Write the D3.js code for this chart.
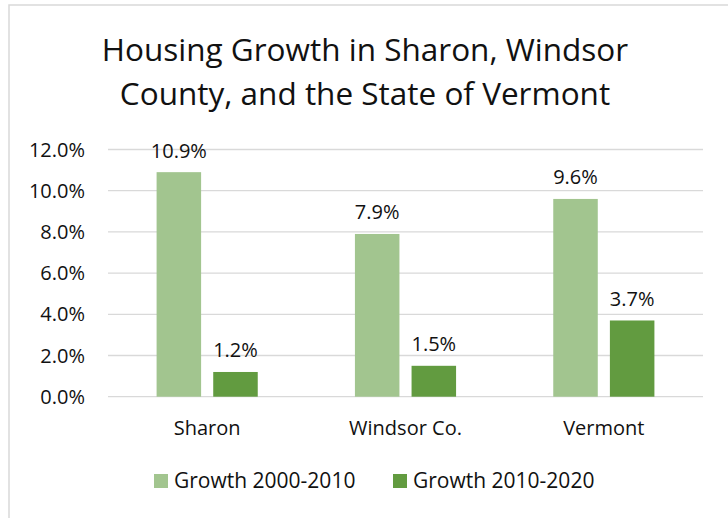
<!DOCTYPE html>
<html lang="en">
<head>
    <meta charset="utf-8">
    <title>housing growth</title>
    <script src="https://cdn.jsdelivr.net/npm/d3@7/dist/d3.min.js"></script>
    <style>
        body { margin: 0; background: #fff; }
        text { font-family: "Open Sans", "Noto Sans", sans-serif; fill: #111; }
    </style>
</head>
<body>
    <script type="text/javascript">
        var categories = ['Sharon', 'Windsor Co.', 'Vermont'];
        var seriesNames = ['Growth 2000-2010', 'Growth 2010-2020'];
        var growth2000 = [10.9, 7.9, 9.6];
        var growth2010 = [1.2, 1.5, 3.7];
        var yTicks = [0, 2, 4, 6, 8, 10, 12];
        var titleLines = ['Housing Growth in Sharon, Windsor', 'County, and the State of Vermont'];

        var colors = ['#a2c58f', '#629b40'];
        var svgWidth = 728, svgHeight = 518;
        var plotLeft = 108, plotRight = 703, plotTop = 149.5, plotBottom = 396.7;

        var svg = d3.select('body')
            .append('svg')
            .attr('width', svgWidth)
            .attr('height', svgHeight);

        // chart frame (runs off the right and bottom edge)
        svg.append('rect')
            .attr('x', 9).attr('y', 5)
            .attr('width', 760).attr('height', 560)
            .attr('fill', '#fff')
            .attr('stroke', '#d9d9d9')
            .attr('stroke-width', 1.5);

        var x0 = d3.scaleBand().domain(categories).range([plotLeft, plotRight]);
        var bw = x0.bandwidth();
        var x1 = d3.scaleBand().domain(seriesNames)
            .range([bw * 0.245, bw * 0.755])
            .paddingInner(0.214);
        var y = d3.scaleLinear().domain([0, 12]).range([plotBottom, plotTop]);

        // title
        svg.append('g').selectAll('text')
            .data(titleLines)
            .enter().append('text')
            .attr('x', 365)
            .attr('y', (d, i) => 61 + i * 44)
            .attr('text-anchor', 'middle')
            .style('font-size', '31.5px')
            .text(d => d);

        // gridlines
        svg.append('g').selectAll('line')
            .data(yTicks)
            .enter().append('line')
            .attr('x1', plotLeft).attr('x2', plotRight)
            .attr('y1', d => y(d)).attr('y2', d => y(d))
            .attr('stroke', '#d9d9d9')
            .attr('stroke-width', 1.3);

        // y axis labels
        svg.append('g').selectAll('text')
            .data(yTicks)
            .enter().append('text')
            .attr('x', 85)
            .attr('y', d => y(d) + 7)
            .attr('text-anchor', 'end')
            .style('font-size', '20px')
            .text(d => d3.format('.1f')(d) + '%');

        var data = categories.map((c, i) => ({
            cat: c,
            values: [
                { name: seriesNames[0], v: growth2000[i] },
                { name: seriesNames[1], v: growth2010[i] }
            ]
        }));

        var groups = svg.append('g').selectAll('g')
            .data(data)
            .enter().append('g')
            .attr('transform', d => 'translate(' + x0(d.cat) + ',0)');

        groups.selectAll('rect')
            .data(d => d.values)
            .enter().append('rect')
            .attr('x', d => x1(d.name))
            .attr('width', x1.bandwidth())
            .attr('y', d => y(d.v))
            .attr('height', d => plotBottom - y(d.v))
            .attr('fill', (d, i) => colors[i]);

        groups.selectAll('text')
            .data(d => d.values)
            .enter().append('text')
            .attr('x', d => x1(d.name) + x1.bandwidth() / 2)
            .attr('y', d => y(d.v) - 14.5)
            .attr('text-anchor', 'middle')
            .style('font-size', '20px')
            .text(d => d3.format('.1f')(d.v) + '%');

        // category labels
        svg.append('g').selectAll('text')
            .data(categories)
            .enter().append('text')
            .attr('x', d => x0(d) + bw / 2)
            .attr('y', 435)
            .attr('text-anchor', 'middle')
            .style('font-size', '20px')
            .text(d => d);

        // legend
        var legendX = [154, 393];
        var legend = svg.append('g').selectAll('g')
            .data(seriesNames)
            .enter().append('g')
            .attr('transform', (d, i) => 'translate(' + legendX[i] + ',474)');
        legend.append('rect')
            .attr('width', 14).attr('height', 14)
            .attr('fill', (d, i) => colors[i]);
        legend.append('text')
            .attr('x', 20).attr('y', 14)
            .style('font-size', '21px')
            .text(d => d);
    </script>
</body>
</html>
